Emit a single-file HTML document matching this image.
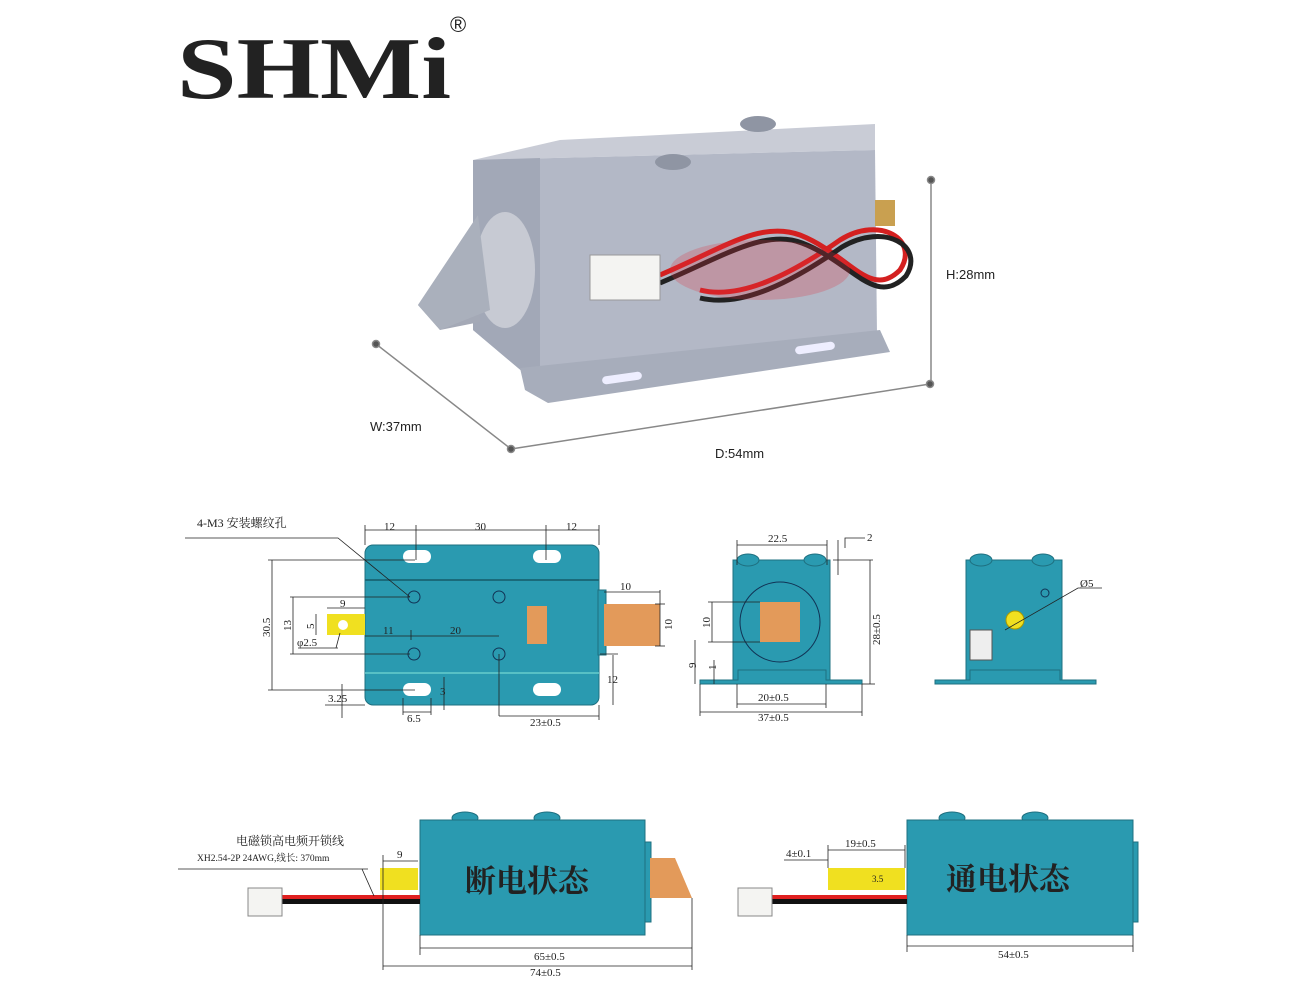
<!DOCTYPE html>
<html><head><meta charset="utf-8"><style>
html,body{margin:0;padding:0;background:#fff;}
svg{display:block;}
text{font-family:"Liberation Serif","Noto Serif CJK SC",serif;fill:#222;}
.s{font-family:"Liberation Sans",sans-serif;}
</style></head><body>
<svg width="1309" height="1000" viewBox="0 0 1309 1000" xmlns="http://www.w3.org/2000/svg">
<!-- logo -->
<text x="177" y="98" font-size="88" font-weight="bold" textLength="274" lengthAdjust="spacingAndGlyphs" style="font-family:'Liberation Serif',serif" fill="#0a0a0a">SHMi</text>
<text x="450" y="32" font-size="22" class="s" fill="#111">®</text>

<!-- product photo -->
<g>
<polygon points="473,160 560,140 875,124 875,150" fill="#c9ccd6"/>
<polygon points="473,160 875,150 877,335 530,378 473,330" fill="#b3b8c6"/>
<polygon points="473,160 540,158 540,372 530,378 473,330" fill="#a2a8b7"/>
<polygon points="520,368 880,330 890,352 548,403 525,390" fill="#a7adbb"/>
<rect x="602" y="374" width="40" height="8" rx="4" fill="#eef" transform="rotate(-8 622 378)"/>
<rect x="795" y="344" width="40" height="8" rx="4" fill="#eef" transform="rotate(-8 815 348)"/>
<polygon points="418,305 478,215 480,322 440,330" fill="#a4a9b6"/>
<ellipse cx="505" cy="270" rx="30" ry="58" fill="#c7cad3"/>
<polygon points="418,305 478,215 490,310 440,330" fill="#aab0bc"/>
<ellipse cx="758" cy="124" rx="18" ry="8" fill="#8f95a3"/>
<ellipse cx="673" cy="162" rx="18" ry="8" fill="#8f95a3"/>
<rect x="875" y="200" width="20" height="26" fill="#c9a050"/>
<path d="M660,275 C720,250 760,220 800,235 C850,255 870,300 900,270 C920,240 880,215 840,240 C790,275 740,300 700,290" stroke="#d42020" stroke-width="5" fill="none"/>
<path d="M660,283 C720,258 765,228 802,243 C852,262 875,308 906,276 C925,246 885,222 842,247 C792,282 742,308 700,298" stroke="#222" stroke-width="5" fill="none"/>
<ellipse cx="760" cy="270" rx="90" ry="30" fill="#e03040" opacity="0.25"/>
<rect x="590" y="255" width="70" height="45" fill="#f4f4f2" stroke="#999"/>
</g>
<!-- product dims -->
<g stroke="#888" stroke-width="1.5" fill="#555">
<line x1="376" y1="344" x2="511" y2="449"/>
<line x1="511" y1="449" x2="930" y2="384"/>
<line x1="931" y1="180" x2="931" y2="384"/>
<circle cx="376" cy="344" r="3.5"/><circle cx="511" cy="449" r="3.5"/>
<circle cx="930" cy="384" r="3.5"/><circle cx="931" cy="180" r="3.5"/>
</g>
<text class="s" x="946" y="279" font-size="13">H:28mm</text>
<text class="s" x="370" y="431" font-size="13">W:37mm</text>
<text class="s" x="715" y="458" font-size="13">D:54mm</text>

<!-- top view -->
<g font-size="11">
<rect x="365" y="545" width="234" height="160" rx="8" fill="#2a9ab0" stroke="#1f7080"/>
<line x1="365" y1="580" x2="599" y2="580" stroke="#1a6a7a" stroke-width="2"/>
<line x1="365" y1="673" x2="599" y2="673" stroke="#6cc" stroke-width="1.5"/>
<g fill="#fff"><rect x="403" y="550" width="28" height="13" rx="6.5"/><rect x="533" y="550" width="28" height="13" rx="6.5"/>
<rect x="403" y="683" width="28" height="13" rx="6.5"/><rect x="533" y="683" width="28" height="13" rx="6.5"/></g>
<g fill="none" stroke="#135"><circle cx="414" cy="597" r="6"/><circle cx="499" cy="597" r="6"/><circle cx="414" cy="654" r="6"/><circle cx="499" cy="654" r="6"/></g>
<rect x="327" y="614" width="38" height="21" fill="#f0e020"/><circle cx="343" cy="625" r="5" fill="#fff"/>
<rect x="527" y="606" width="20" height="38" fill="#e39a5a"/>
<rect x="598" y="590" width="8" height="65" fill="#2a9ab0" stroke="#1f7080"/>
<rect x="604" y="604" width="56" height="42" fill="#e39a5a"/>
<g stroke="#222" stroke-width="0.8" fill="none">
<path d="M185,538 H338 L410,597"/>
<line x1="365" y1="530" x2="599" y2="530"/><line x1="365" y1="525" x2="365" y2="545"/><line x1="416" y1="525" x2="416" y2="560"/><line x1="546" y1="525" x2="546" y2="560"/><line x1="599" y1="525" x2="599" y2="545"/>
<line x1="272" y1="560" x2="272" y2="690"/><line x1="268" y1="560" x2="415" y2="560"/><line x1="268" y1="690" x2="415" y2="690"/>
<line x1="293" y1="597" x2="293" y2="654"/><line x1="290" y1="597" x2="410" y2="597"/><line x1="290" y1="654" x2="410" y2="654"/>
<line x1="327" y1="608" x2="365" y2="608"/><line x1="316" y1="614" x2="316" y2="635"/>
<line x1="365" y1="636" x2="499" y2="636"/><line x1="411" y1="630" x2="411" y2="640"/>
<path d="M338,648 H298 M340,633 L336,648"/>
<line x1="604" y1="592" x2="660" y2="592"/><line x1="660" y1="590" x2="660" y2="646"/><line x1="655" y1="604" x2="665" y2="604"/><line x1="655" y1="646" x2="665" y2="646"/>
<line x1="613" y1="655" x2="613" y2="705"/><line x1="600" y1="654" x2="618" y2="654"/>
<line x1="499" y1="654" x2="499" y2="716"/><line x1="499" y1="716" x2="599" y2="716"/><line x1="599" y1="705" x2="599" y2="720"/>
<line x1="342" y1="684" x2="342" y2="718"/><line x1="325" y1="705" x2="365" y2="705"/>
<line x1="444" y1="677" x2="444" y2="710"/><line x1="403" y1="698" x2="403" y2="715"/><line x1="431" y1="698" x2="431" y2="715"/><line x1="403" y1="712" x2="431" y2="712"/>
</g>
<text x="197" y="527" font-size="12">4-M3 安装螺纹孔</text>
<text x="384" y="530">12</text><text x="475" y="530">30</text><text x="566" y="530">12</text>
<text x="340" y="607">9</text><text x="383" y="634">11</text><text x="450" y="634">20</text>
<text x="297" y="646">φ2.5</text><text x="620" y="590">10</text>
<text x="607" y="683">12</text><text x="328" y="702">3.25</text><text x="440" y="695">3</text>
<text x="407" y="722">6.5</text><text x="530" y="726">23±0.5</text>
<text transform="translate(270,637) rotate(-90)">30.5</text>
<text transform="translate(291,631) rotate(-90)">13</text>
<text transform="translate(314,629) rotate(-90)">5</text>
<text transform="translate(672,630) rotate(-90)">10</text>
</g>

<!-- front view -->
<g font-size="11">
<rect x="733" y="560" width="97" height="120" fill="#2a9ab0" stroke="#1f7080"/>
<ellipse cx="748" cy="560" rx="11" ry="6" fill="#2a9ab0" stroke="#1f7080"/>
<ellipse cx="815" cy="560" rx="11" ry="6" fill="#2a9ab0" stroke="#1f7080"/>
<circle cx="780" cy="622" r="40" fill="#2a9ab0" stroke="#135"/>
<rect x="760" y="602" width="40" height="40" fill="#e39a5a"/>
<polygon points="700,680 738,680 738,670 826,670 826,680 862,680 862,684 700,684" fill="#2a9ab0" stroke="#1f7080"/>
<g stroke="#222" stroke-width="0.8" fill="none">
<line x1="737" y1="545" x2="827" y2="545"/><line x1="737" y1="540" x2="737" y2="565"/><line x1="827" y1="540" x2="827" y2="565"/>
<line x1="838" y1="540" x2="838" y2="575"/><path d="M845,548 V538 H865"/>
<line x1="833" y1="560" x2="873" y2="560"/><line x1="870" y1="560" x2="870" y2="684"/><line x1="862" y1="684" x2="875" y2="684"/>
<line x1="712" y1="602" x2="712" y2="642"/><line x1="708" y1="602" x2="760" y2="602"/><line x1="708" y1="642" x2="760" y2="642"/>
<line x1="695" y1="640" x2="695" y2="684"/><line x1="714" y1="660" x2="714" y2="684"/>
<line x1="737" y1="704" x2="826" y2="704"/><line x1="737" y1="684" x2="737" y2="708"/><line x1="826" y1="684" x2="826" y2="708"/>
<line x1="700" y1="712" x2="862" y2="712"/><line x1="700" y1="684" x2="700" y2="716"/><line x1="862" y1="684" x2="862" y2="716"/>
</g>
<text x="768" y="542">22.5</text><text x="867" y="541">2</text>
<text x="758" y="701">20±0.5</text><text x="758" y="721">37±0.5</text>
<text transform="translate(880,645) rotate(-90)">28±0.5</text>
<text transform="translate(710,628) rotate(-90)">10</text>
<text transform="translate(696,668) rotate(-90)">9</text>
<text transform="translate(716,670) rotate(-90)">1</text>
</g>

<!-- side view -->
<g font-size="11">
<rect x="966" y="560" width="96" height="120" fill="#2a9ab0" stroke="#1f7080"/>
<ellipse cx="981" cy="560" rx="11" ry="6" fill="#2a9ab0" stroke="#1f7080"/>
<ellipse cx="1043" cy="560" rx="11" ry="6" fill="#2a9ab0" stroke="#1f7080"/>
<polygon points="935,680 970,680 970,670 1060,670 1060,680 1096,680 1096,684 935,684" fill="#2a9ab0" stroke="#1f7080"/>
<rect x="970" y="630" width="22" height="30" fill="#eee" stroke="#555"/>
<circle cx="1015" cy="620" r="9" fill="#f0e020" stroke="#a90"/>
<circle cx="1045" cy="593" r="4" fill="none" stroke="#135"/>
<path d="M1005,630 L1078,588 H1102" stroke="#222" stroke-width="0.8" fill="none"/>
<text x="1080" y="587">Ø5</text>
</g>

<!-- bottom left -->
<g font-size="11">
<ellipse cx="465" cy="818" rx="13" ry="6" fill="#2a9ab0" stroke="#1f7080"/>
<ellipse cx="547" cy="818" rx="13" ry="6" fill="#2a9ab0" stroke="#1f7080"/>
<rect x="420" y="820" width="225" height="115" fill="#2a9ab0" stroke="#1f7080"/>
<rect x="645" y="842" width="6" height="80" fill="#2a9ab0" stroke="#1f7080"/>
<polygon points="650,858 675,858 692,898 650,898" fill="#e39a5a"/>
<path d="M380,868 H418 V890 H380 Z" fill="#f0e020"/>
<rect x="282" y="895" width="138" height="4" fill="#e02020"/><rect x="282" y="899" width="138" height="5" fill="#111"/>
<rect x="248" y="888" width="34" height="28" fill="#f4f4f2" stroke="#888"/>
<text x="465" y="892" font-size="31" font-weight="bold" fill="#111" style="font-family:'Noto Serif CJK SC',serif">断电状态</text>
<g stroke="#222" stroke-width="0.8" fill="none">
<line x1="178" y1="869" x2="368" y2="869"/><line x1="362" y1="869" x2="374" y2="896"/>
<line x1="383" y1="861" x2="418" y2="861"/><line x1="383" y1="855" x2="383" y2="970"/>
<line x1="420" y1="935" x2="420" y2="955"/><line x1="692" y1="898" x2="692" y2="970"/>
<line x1="420" y1="948" x2="692" y2="948"/><line x1="383" y1="966" x2="692" y2="966"/>
</g>
<text x="236" y="845" font-size="12">电磁锁高电频开锁线</text>
<text x="197" y="861" font-size="9.5">XH2.54-2P 24AWG,线长: 370mm</text>
<text x="397" y="858">9</text><text x="534" y="960">65±0.5</text><text x="530" y="976">74±0.5</text>
</g>

<!-- bottom right -->
<g font-size="11">
<ellipse cx="952" cy="818" rx="13" ry="6" fill="#2a9ab0" stroke="#1f7080"/>
<ellipse cx="1035" cy="818" rx="13" ry="6" fill="#2a9ab0" stroke="#1f7080"/>
<rect x="907" y="820" width="226" height="115" fill="#2a9ab0" stroke="#1f7080"/>
<rect x="1133" y="842" width="5" height="80" fill="#2a9ab0" stroke="#1f7080"/>
<path d="M828,868 H905 V890 H828 Z" fill="#f0e020"/>
<rect x="772" y="895" width="135" height="4" fill="#e02020"/><rect x="772" y="899" width="135" height="5" fill="#111"/>
<rect x="738" y="888" width="34" height="28" fill="#f4f4f2" stroke="#888"/>
<text x="946" y="890" font-size="31" font-weight="bold" fill="#111" style="font-family:'Noto Serif CJK SC',serif">通电状态</text>
<g stroke="#222" stroke-width="0.8" fill="none">
<line x1="784" y1="860" x2="828" y2="860"/><line x1="828" y1="850" x2="905" y2="850"/>
<line x1="828" y1="845" x2="828" y2="868"/><line x1="905" y1="845" x2="905" y2="868"/>
<line x1="907" y1="935" x2="907" y2="952"/><line x1="1133" y1="935" x2="1133" y2="952"/>
<line x1="907" y1="946" x2="1133" y2="946"/>
</g>
<text x="786" y="857">4±0.1</text><text x="845" y="847">19±0.5</text><text x="872" y="882" font-size="9">3.5</text>
<text x="998" y="958">54±0.5</text>
</g>
</svg>
</body></html>
